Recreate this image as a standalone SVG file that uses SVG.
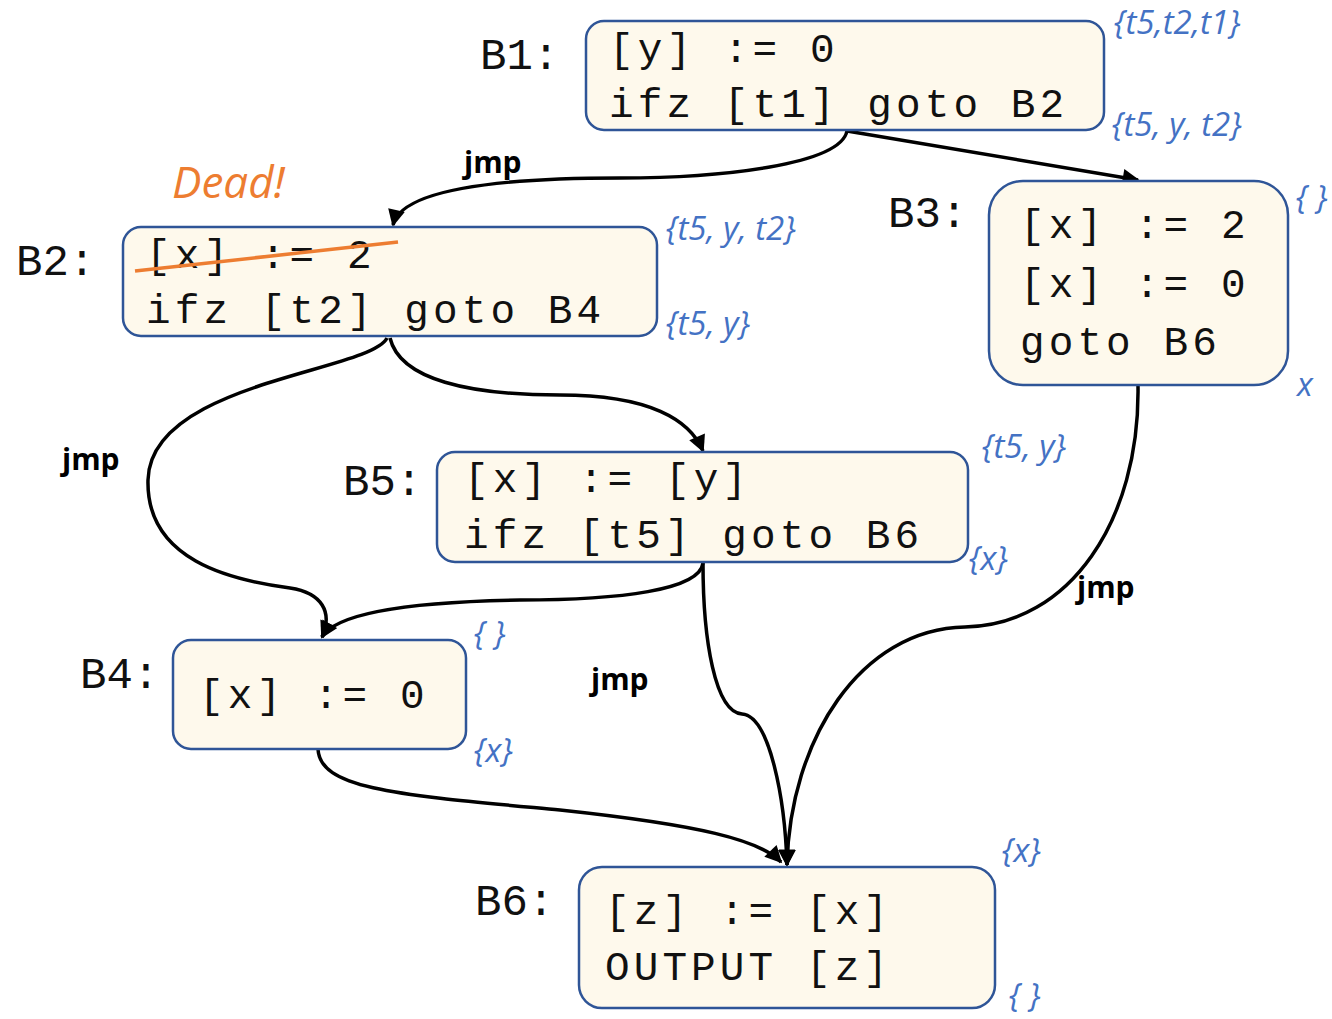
<svg xmlns="http://www.w3.org/2000/svg" width="1332" height="1019" viewBox="0 0 1332 1019">
  <defs>
    <marker id="arrow" viewBox="0 0 10 10" refX="9" refY="5" markerWidth="19" markerHeight="17" markerUnits="userSpaceOnUse" orient="auto">
      <path d="M0,0 L10,5 L0,10 z" fill="#000"/>
    </marker>
    <style>
      .box { fill: #FEF9EC; stroke: #2F5597; stroke-width: 2.5; }
      .code { font-family: "Liberation Mono", monospace; font-size: 41px; letter-spacing: 4.1px; fill: #111; }
      .lbl { font-family: "Liberation Mono", monospace; font-size: 44px; fill: #111; }
      .set { font-family: "Open Sans", "Liberation Sans", sans-serif; font-style: italic; font-size: 33px; fill: #4472C4; }
      .jmp { font-family: "Open Sans", "Liberation Sans", sans-serif; font-weight: bold; font-size: 30px; fill: #000; }
      .edge { fill: none; stroke: #000; stroke-width: 3.5; marker-end: url(#arrow); }
    </style>
  </defs>

  <!-- control-flow edges -->
  <g id="edges">
    <path class="edge" d="M847,131 C840,165 720,178 620,178 C470,178 400,195 393,225"/>
    <path class="edge" d="M847,131 L1138,180"/>
    <path class="edge" d="M387,338 C370,372 150,382 148,480 C146,560 230,580 290,588 C322,593 333,612 322,637"/>
    <path class="edge" d="M390,338 C400,380 470,395 560,395 C650,395 690,420 703,451"/>
    <path class="edge" d="M703,563 C700,590 620,600 520,600 C400,602 335,615 322,637"/>
    <path class="edge" d="M703,563 C703,640 715,712 742,714 C770,716 785,800 787,865"/>
    <path class="edge" d="M1138,386 C1140,520 1070,625 965,627 C860,629 790,740 787,865"/>
    <path class="edge" d="M318,749 C320,790 400,795 560,810 C700,825 760,840 781,862"/>
    <text class="jmp" x="464" y="173">jmp</text>
    <text class="jmp" x="62" y="470">jmp</text>
    <text class="jmp" x="591" y="690">jmp</text>
    <text class="jmp" x="1077" y="598">jmp</text>
  </g>

  <!-- B1 -->
  <g id="B1">
    <text class="lbl" x="480" y="69">B1:</text>
    <rect class="box" x="586" y="21" width="518" height="109" rx="18"/>
    <text class="code" x="609" y="62">[y] := 0</text>
    <text class="code" x="609" y="117">ifz [t1] goto B2</text>
    <text class="set" x="1114" y="34">{t5,t2,t1}</text>
    <text class="set" x="1112" y="136">{t5, y, t2}</text>
  </g>

  <!-- B2 -->
  <g id="B2">
    <text class="lbl" x="16" y="275">B2:</text>
    <rect class="box" x="123" y="227" width="534" height="109" rx="18"/>
    <text class="code" x="146" y="268">[x] := 2</text>
    <text class="code" x="146" y="323">ifz [t2] goto B4</text>
    <line x1="135" y1="271" x2="398" y2="242" stroke="#ED7D31" stroke-width="3.5"/>
    <text x="172" y="198" font-family="Open Sans, Liberation Sans, sans-serif" font-style="italic" font-size="44" fill="#ED7D31">Dead!</text>
    <text class="set" x="666" y="240">{t5, y, t2}</text>
    <text class="set" x="666" y="335">{t5, y}</text>
  </g>

  <!-- B3 -->
  <g id="B3">
    <text class="lbl" x="888" y="227">B3:</text>
    <rect class="box" x="989" y="181" width="299" height="204" rx="34"/>
    <text class="code" x="1020" y="238">[x] := 2</text>
    <text class="code" x="1020" y="297">[x] := 0</text>
    <text class="code" x="1020" y="355">goto B6</text>
    <text class="set" x="1296" y="209">{ }</text>
    <text class="set" x="1297" y="396">x</text>
  </g>

  <!-- B5 -->
  <g id="B5">
    <text class="lbl" x="343" y="495">B5:</text>
    <rect class="box" x="437" y="452" width="531" height="110" rx="18"/>
    <text class="code" x="464" y="492">[x] := [y]</text>
    <text class="code" x="464" y="548">ifz [t5] goto B6</text>
    <text class="set" x="982" y="458">{t5, y}</text>
    <text class="set" x="969" y="570">{x}</text>
  </g>

  <!-- B4 -->
  <g id="B4">
    <text class="lbl" x="80" y="688">B4:</text>
    <rect class="box" x="173" y="640" width="293" height="109" rx="18"/>
    <text class="code" x="199" y="708">[x] := 0</text>
    <text class="set" x="474" y="645">{ }</text>
    <text class="set" x="474" y="762">{x}</text>
  </g>

  <!-- B6 -->
  <g id="B6">
    <text class="lbl" x="475" y="915">B6:</text>
    <rect class="box" x="579" y="867" width="416" height="141" rx="23"/>
    <text class="code" x="605" y="924">[z] := [x]</text>
    <text class="code" x="605" y="980">OUTPUT [z]</text>
    <text class="set" x="1002" y="862">{x}</text>
    <text class="set" x="1009" y="1007">{ }</text>
  </g>
</svg>
